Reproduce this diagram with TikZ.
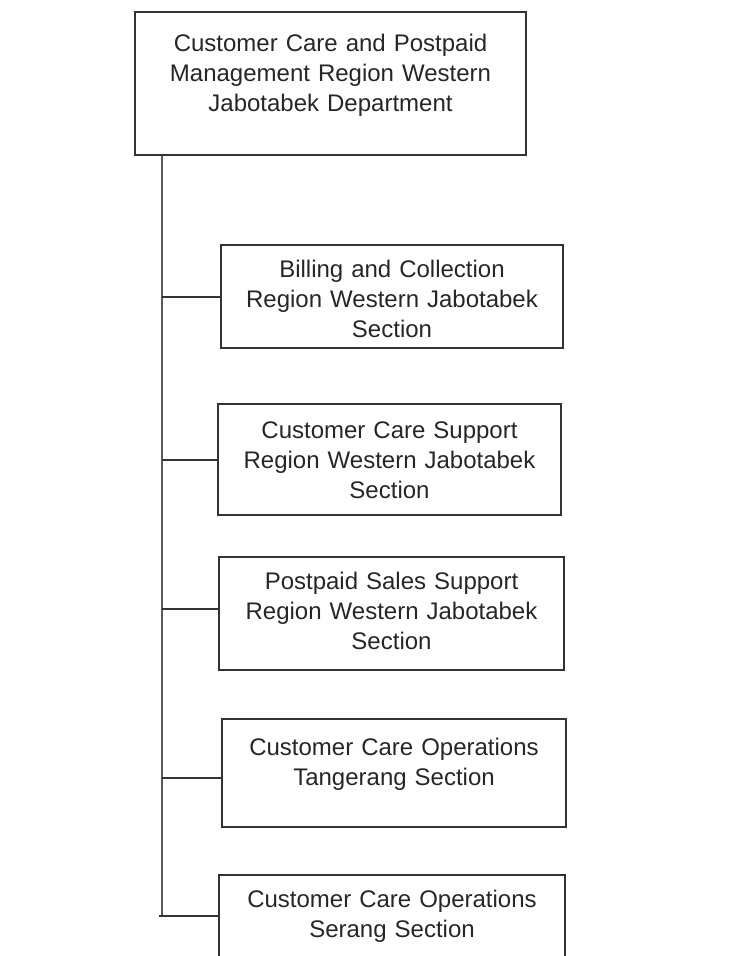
\documentclass[tikz,border=0pt]{standalone}
\usepackage{fontspec}
\setmainfont{Liberation Sans}
\usepackage{tikz}
\usetikzlibrary{positioning, calc}
\definecolor{BoxLine}{HTML}{333333}
\definecolor{SpineGray}{HTML}{5A5A5A}
\definecolor{Ink}{HTML}{262626}

\begin{document}
\begin{tikzpicture}[x=1pt, y=-1pt,
        orgbox/.style={draw=BoxLine, line width=1.4pt, text=Ink, anchor=base,
            font=\fontsize{24}{30}\selectfont, align=center, inner xsep=0pt, inner ysep=0pt},
        branch/.style={draw=BoxLine, line width=1.3pt}]
        % Page frame (keeps the 736 x 956 proportions)
        \useasboundingbox (0, 0) rectangle (736, 956);

        % Department box at the top
        \node[orgbox, text width=330pt, minimum width=391pt, text height=39pt, text depth=104pt]
            (dept) at (330.5, 51) {Customer Care and Postpaid\\Management Region Western\\Jabotabek Department};

        % Section boxes
        \node[orgbox, text width=300pt, minimum width=342pt, text height=32pt, text depth=71pt]
            (billing) at (392, 277) {Billing and Collection\\Region Western Jabotabek\\Section};
        \node[orgbox, text width=300pt, minimum width=343pt, text height=34pt, text depth=77pt]
            (ccsupport) at (389.5, 438) {Customer Care Support\\Region Western Jabotabek\\Section};
        \node[orgbox, text width=300pt, minimum width=345pt, text height=32pt, text depth=81pt]
            (salessupport) at (391.5, 589) {Postpaid Sales Support\\Region Western Jabotabek\\Section};
        \node[orgbox, text width=300pt, minimum width=344pt, text height=36pt, text depth=72pt]
            (tangerang) at (394, 755) {Customer Care Operations\\Tangerang Section};
        \node[orgbox, text width=300pt, minimum width=346pt, text height=32pt, text depth=80pt]
            (serang) at (392, 907) {Customer Care Operations\\Serang Section};

        % Junctions on the spine
        \coordinate (j1) at (162, 297);
        \coordinate (j2) at (162, 460);
        \coordinate (j3) at (162, 609);
        \coordinate (j4) at (162, 778);
        \coordinate (j5) at (162, 916);

        % Spine down from the department
        \draw[draw=SpineGray, line width=1.3pt] (dept.south -| j1) -- (j5);

        % Branches to the sections
        \draw[branch] (j1) -- (j1 -| billing.west);
        \draw[branch] (j2) -- (j2 -| ccsupport.west);
        \draw[branch] (j3) -- (j3 -| salessupport.west);
        \draw[branch] (j4) -- (j4 -| tangerang.west);
        \draw[branch] ([xshift=-3pt]j5) -- (j5 -| serang.west);
    \end{tikzpicture}
\end{document}
